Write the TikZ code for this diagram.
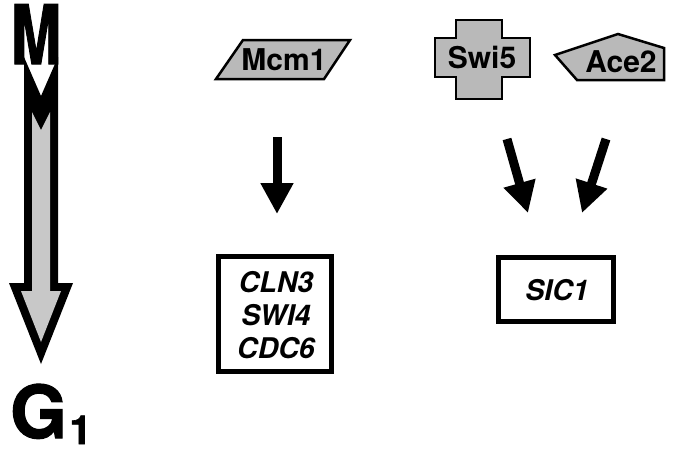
\documentclass[tikz,border=0pt]{standalone}
\usepackage{fontspec}
\setmainfont{TeX Gyre Heros}
\newfontfamily\heavyfont[FakeBold=1.5]{TeX Gyre Heros Bold}
\usetikzlibrary{arrows.meta}
\definecolor{shapegray}{RGB}{185,185,185}
\definecolor{arrowgray}{RGB}{200,200,200}
\tikzset{
  protshape/.style={fill=shapegray, draw=black, line width=2.5pt, line join=miter},
  protlabel/.style={inner sep=0pt, font=\fontsize{30}{30}\selectfont\bfseries},
  genebox/.style={draw=black, line width=5pt, fill=white},
  genelabel/.style={inner sep=0pt, align=center, font=\fontsize{28.5}{33}\selectfont\bfseries\itshape},
  actarrow/.style={line width=9pt, -{Triangle[width=31pt,length=31pt]}},
}
\begin{document}
\begin{tikzpicture}[x=1pt,y=-1pt]
\useasboundingbox (0,0) rectangle (675,450);
\fill[white] (0,0) rectangle (675,450);

% big M -> G1 arrow
\fill[black] (24,57) -- (41,96) -- (58,57) -- (58,283) -- (73,283) -- (41,364) -- (9,283) -- (24,283) -- cycle;
\fill[arrowgray] (32,112) -- (41,130) -- (50,112) -- (50,291) -- (61,291) -- (41,342) -- (21,291) -- (32,291) -- cycle;
\node[inner sep=0pt, anchor=base, xscale=0.74, font=\fontsize{82}{82}\selectfont\heavyfont] (M) at (36,64) {M};
\node[inner sep=0pt, anchor=base west, font=\fontsize{73}{73}\selectfont\heavyfont] (G) at (10,438) {G};
\node[inner sep=0pt, anchor=base west, font=\fontsize{40}{40}\selectfont\heavyfont] (Gsub) at ([xshift=2pt,yshift=-6pt]G.base east) {1};

% Mcm1 parallelogram
\draw[protshape] (243,40) -- (350,40) -- (324,79) -- (216,79) -- cycle;
\node[protlabel] (mcm) at (284,60) {Mcm1};

% Swi5 cross
\draw[protshape] (456,20) -- (502,20) -- (502,38) -- (530,38) -- (530,77) -- (502,77) -- (502,99) -- (456,99) -- (456,77) -- (435,77) -- (435,38) -- (456,38) -- cycle;
\node[protlabel] (swi) at (482,58) {Swi5};

% Ace2 pentagon
\draw[protshape] (555,55) -- (618,34) -- (664,48) -- (664,80) -- (577,80) -- cycle;
\node[protlabel] (ace) at (621,62) {Ace2};

% gene boxes
\draw[genebox] (218,256) rectangle (331,371);
\node[genelabel] (genesA) at (276,315) {CLN3\\SWI4\\CDC6};
\draw[genebox] (498,257) rectangle (613,321);
\node[genelabel] (sic) at (557,290) {SIC1};

% activation arrows
\coordinate (a1s) at (277,137);
\coordinate (a1e) at (277,214);
\coordinate (a2s) at (507,139);
\coordinate (a2e) at (528,213);
\coordinate (a3s) at (606,139);
\coordinate (a3e) at (582,213);
\draw[actarrow] (a1s) -- (a1e);
\draw[actarrow] (a2s) -- (a2e);
\draw[actarrow] (a3s) -- (a3e);
\end{tikzpicture}
\end{document}
